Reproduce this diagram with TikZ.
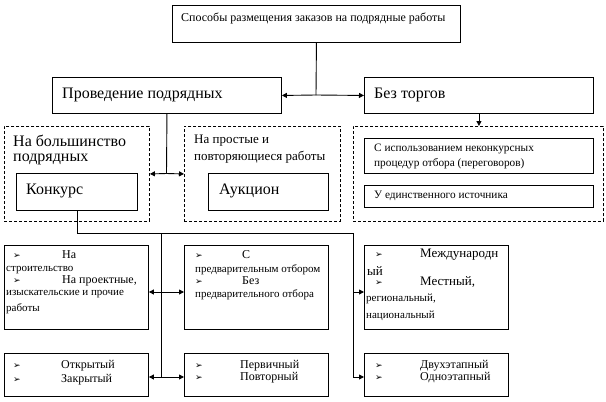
\documentclass[tikz,border=0pt]{standalone}
\usepackage{fontspec}
\setmainfont{Liberation Serif}
\newfontfamily\symf{DejaVu Sans}
\usetikzlibrary{arrows.meta}
\newcommand\bul{{\symf\fontsize{9}{9}\selectfont ➢}}
\newcommand\mkbox[6]{\node[#1, anchor=north west, minimum width={(#4-#2)*1pt}, minimum height={(#5-#3)*1pt}] (#6) at (#2,#3) {};}
\begin{document}
\begin{tikzpicture}[x=1pt,y=-1pt,
  box/.style={draw, line width=0.9pt, inner sep=0pt, fill=white},
  dbox/.style={draw, line width=0.9pt, dash pattern=on 3pt off 2pt, inner sep=0pt},
  txt/.style={anchor=west, inner sep=0pt},
  pair/.style={anchor=north west, inner sep=0pt, align=left},
  big/.style={font=\fontsize{16}{18}\selectfont},
  med/.style={font=\fontsize{13}{15}\selectfont},
  mid/.style={font=\fontsize{12}{10.5}\selectfont},
  sml/.style={font=\fontsize{12}{14}\selectfont},
  inr/.style={font=\fontsize{11.3}{13}\selectfont},
  tny/.style={font=\fontsize{11}{13}\selectfont},
  ln/.style={line width=0.9pt},
  arr/.style={line width=0.9pt, -{Triangle[length=5pt,width=5pt]}},
]
\useasboundingbox (0,0) rectangle (606,402);
% boxes
\mkbox{box}{172}{5}{460}{42}{top}
\mkbox{box}{52}{77}{281}{113}{prov}
\mkbox{box}{364}{77}{593}{113}{bez}
\mkbox{dbox}{4}{126}{149}{221}{dA}
\mkbox{dbox}{184}{126}{340}{221}{dB}
\mkbox{dbox}{353}{126}{603}{221}{dC}
\mkbox{box}{16}{173}{137}{210}{konk}
\mkbox{box}{208}{173}{328}{210}{auk}
\mkbox{box}{364}{138}{593}{173}{neg}
\mkbox{box}{364}{185}{593}{207}{edin}
\mkbox{box}{4}{245}{148}{329}{Lone}
\mkbox{box}{184}{245}{328}{329}{Mone}
\mkbox{box}{364}{245}{508}{329}{Rone}
\mkbox{box}{4}{353}{148}{396}{Ltwo}
\mkbox{box}{184}{353}{328}{396}{Mtwo}
\mkbox{box}{364}{353}{508}{396}{Rtwo}
% texts
\node[txt,sml] (t1) at (181,18) {Способы размещения заказов на подрядные работы};
\node[txt,big] (t2) at (62,95) {Проведение подрядных};
\node[txt,big] (t3) at (374,95) {Без торгов};
\node[txt,big] (t4) at (13,141) {На большинство};
\node[txt,big] (t5) at (13,159) {подрядных};
\node[txt,big] (t6) at (26,191) {Конкурс};
\node[txt,med] (t7) at (194,141) {На простые и};
\node[txt,med] (t8) at (194,157) {повторяющиеся работы};
\node[txt,big] (t9) at (219,191) {Аукцион};
\node[txt,inr] (t10) at (374,149) {С использованием неконкурсных};
\node[txt,inr] (t11) at (374,164) {процедур отбора (переговоров)};
\node[txt,inr] (t12) at (374,196) {У единственного источника};
% L1
\node[txt,mid] (t13) at (13,255) {\makebox[49pt][l]{\bul}На};
\node[txt,tny] (t14) at (6,270) {строительство};
\node[txt,mid] (t15) at (13,281) {\makebox[49pt][l]{\bul}На проектные,};
\node[txt,tny] (t16) at (6,294) {изыскательские и прочие};
\node[txt,tny] (t17) at (6,309) {работы};
% M1
\node[txt,mid] (t18) at (195,255) {\makebox[47pt][l]{\bul}С};
\node[txt,tny] (t19) at (195,270) {предварительным отбором};
\node[txt,mid] (t20) at (195,281) {\makebox[47pt][l]{\bul}Без};
\node[txt,tny] (t21) at (195,295) {предварительного отбора};
% R1
\node[txt,med] (t22) at (375,255) {\makebox[45pt][l]{\bul}Международн};
\node[txt,med] (t23) at (367,271) {ый};
\node[txt,med] (t24) at (375,282) {\makebox[45pt][l]{\bul}Местный,};
\node[txt,tny] (t25) at (366,299) {региональный,};
\node[txt,tny] (t26) at (366,316) {национальный};
% bottom row
\node[pair,font=\fontsize{12}{14}\selectfont] (t27) at (13,360) {\makebox[48pt][l]{\bul}Открытый\\\makebox[48pt][l]{\bul}Закрытый};
\node[pair,mid] (t29) at (195,360) {\makebox[45pt][l]{\bul}Первичный\\\makebox[45pt][l]{\bul}Повторный};
\node[pair,mid] (t31) at (375,360) {\makebox[45pt][l]{\bul}Двухэтапный\\\makebox[45pt][l]{\bul}Одноэтапный};
% junctions
\coordinate (j1) at (316,95);
\coordinate (j2) at (166.5,173.5);
\coordinate (c2) at (161,233);
\coordinate (c3) at (353,233);
\coordinate (m1) at (161,292);
\coordinate (m2) at (161,377);
\coordinate (r1) at (353,292);
\coordinate (r2) at (353,377);
% connectors
\draw[ln] (top.south) -- (j1);
\draw[arr] (j1) -- (prov.east);
\draw[arr] (j1) -- (bez.west);
\draw[arr] (bez.south) -- (bez.south |- dC.north);
\draw[ln] (prov.south) -- (j2);
\draw[arr] (j2) -- (dA.east);
\draw[arr] (j2) -- (dB.west);
\draw[ln] (konk.south) |- (c3) -- (r2);
\draw[ln] (c2) -- (m2);
\draw[arr] (m1) -- (m1 -| Lone.east);
\draw[arr] (m1) -- (m1 -| Mone.west);
\draw[arr] (m2) -- (m2 -| Ltwo.east);
\draw[arr] (m2) -- (m2 -| Mtwo.west);
\draw[arr] (r1) -- (r1 -| Rone.west);
\draw[arr] (r2) -- (r2 -| Rtwo.west);
\end{tikzpicture}
\end{document}
